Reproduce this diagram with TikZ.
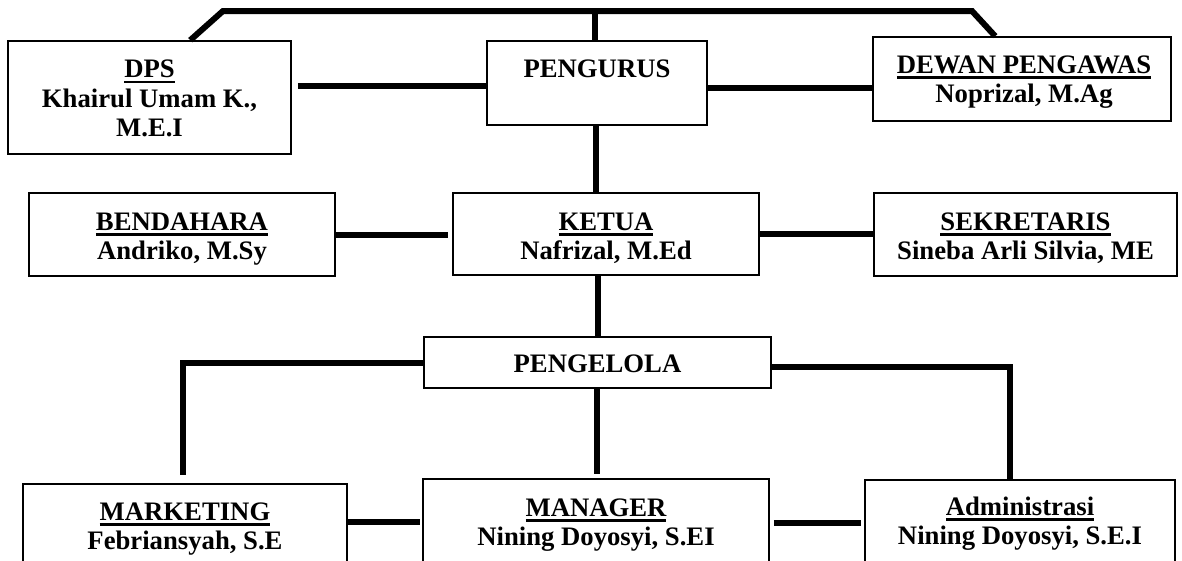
\documentclass[tikz,border=0pt]{standalone}
\usepackage{fontspec}
\setmainfont{Liberation Serif}
\usetikzlibrary{calc}
\newcommand{\ulx}[1]{\setbox0\hbox{#1}\rlap{\rule[-5.5pt]{\wd0}{2.2pt}}\box0}
\begin{document}
\begin{tikzpicture}[x=1pt,y=-1pt,
  box/.style={draw, line width=1.6pt, rectangle, inner sep=0pt},
  conn/.style={line width=6pt},
  lbl/.style={inner sep=0pt, anchor=base, font=\bfseries\fontsize{26.7}{29.5}\selectfont}]
\clip (0,0) rectangle (1182,560);
% boxes
\node[box, minimum width=283pt, minimum height=113pt] (dps) at (149.5,97.5) {};
\node[box, minimum width=220pt, minimum height=84pt] (pengurus) at (597,83) {};
\node[box, minimum width=298pt, minimum height=84pt] (dewan) at (1022,79) {};
\node[box, minimum width=306pt, minimum height=83pt] (bendahara) at (182,234.5) {};
\node[box, minimum width=306pt, minimum height=82pt] (ketua) at (606,234) {};
\node[box, minimum width=303pt, minimum height=83pt] (sekretaris) at (1025.5,234.5) {};
\node[box, minimum width=347pt, minimum height=51pt] (pengelola) at (597.5,362.5) {};
\node[box, minimum width=324pt, minimum height=116pt] (marketing) at (185,542) {};
\node[box, minimum width=346pt, minimum height=121pt] (manager) at (596,539.5) {};
\node[box, minimum width=310pt, minimum height=120pt] (admin) at (1020,540) {};
% labels
\node[lbl] (dpsT) at (149.5,77.5) {\begin{tabular}[t]{@{}c@{}}\ulx{DPS}\\Khairul Umam K.,\\M.E.I\end{tabular}};
\node[lbl] (pengurusT) at (597,77) {PENGURUS};
\node[lbl] (dewanT) at (1024,73) {\begin{tabular}[t]{@{}c@{}}\ulx{DEWAN PENGAWAS}\\Noprizal, M.Ag\end{tabular}};
\node[lbl] (bendaharaT) at (182,230) {\begin{tabular}[t]{@{}c@{}}\ulx{BENDAHARA}\\Andriko, M.Sy\end{tabular}};
\node[lbl] (ketuaT) at (606,230) {\begin{tabular}[t]{@{}c@{}}\ulx{KETUA}\\Nafrizal, M.Ed\end{tabular}};
\node[lbl] (sekretarisT) at (1025.5,230) {\begin{tabular}[t]{@{}c@{}}\ulx{SEKRETARIS}\\Sineba Arli Silvia, ME\end{tabular}};
\node[lbl] (pengelolaT) at (597.5,372) {PENGELOLA};
\node[lbl] (marketingT) at (185,520) {\begin{tabular}[t]{@{}c@{}}\ulx{MARKETING}\\Febriansyah, S.E\end{tabular}};
\node[lbl] (managerT) at (596,516) {\begin{tabular}[t]{@{}c@{}}\ulx{MANAGER}\\Nining Doyosyi, S.EI\end{tabular}};
\node[lbl] (adminT) at (1020,515) {\begin{tabular}[t]{@{}c@{}}\ulx{Administrasi}\\Nining Doyosyi, S.E.I\end{tabular}};
% connectors
\coordinate (busL) at (223,11);
\coordinate (busR) at (972,11);
\coordinate (colA) at (595,11);
\draw[conn] ($(dps.north west)+(183,0)$) -- (busL) -- (busR) -- ($(dewan.north west)+(123,0)$);
\draw[conn] (colA) -- (colA |- pengurus.north);
\draw[conn] ($(dps.east |- pengurus.west)+(6,3)$) -- ($(pengurus.west)+(0,3)$);
\draw[conn] ($(pengurus.east)+(0,5)$) -- ($(dewan.west |- pengurus.east)+(1,5)$);
\draw[conn] ($(pengurus.south)+(-1,0)$) -- ($(pengurus.south |- ketua.north)+(-1,0)$);
\draw[conn] (bendahara.east) -- ($(ketua.west |- bendahara.east)+(-4,0)$);
\draw[conn] (ketua.east) -- (sekretaris.west |- ketua.east);
\draw[conn] (ketua.south -| pengelola.north) -- (pengelola.north);
\draw[conn] (pengelola.west) -| ($(marketing.north)+(-2,-8)$);
\draw[conn] ($(pengelola.east)+(0,4)$) -| ($(admin.north)+(-10,0)$);
\draw[conn] ($(pengelola.south)+(-1,0)$) -- ($(pengelola.south |- manager.north)+(-1,-4)$);
\draw[conn] ($(marketing.north east)+(0,39)$) -- ($(manager.west |- marketing.north east)+(-2,39)$);
\draw[conn] ($(manager.north east)+(4,45)$) -- ($(admin.west |- manager.north east)+(-3,45)$);
\end{tikzpicture}
\end{document}
